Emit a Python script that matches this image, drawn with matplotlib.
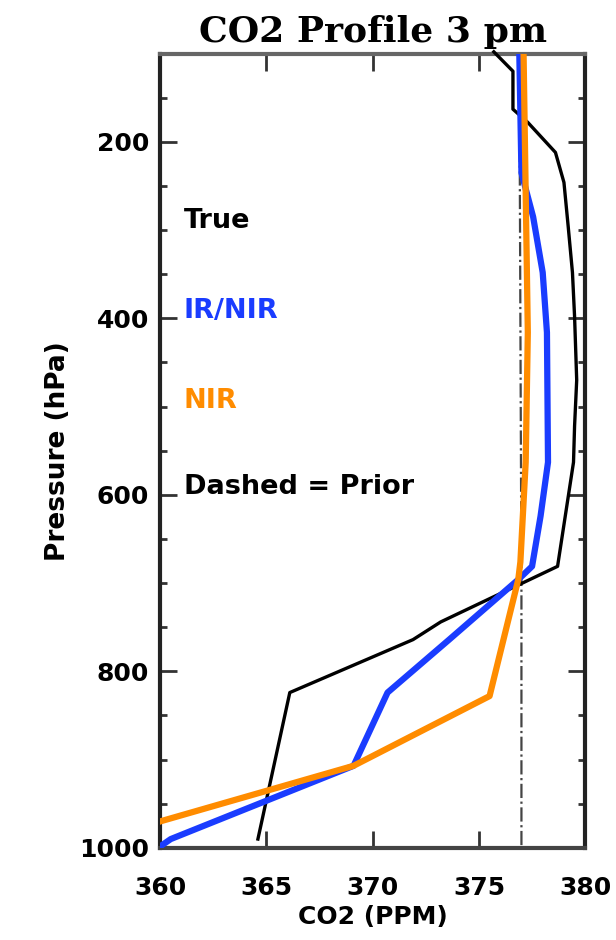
import numpy as np
import matplotlib
matplotlib.use("Agg")
import matplotlib.pyplot as plt
from matplotlib.ticker import MultipleLocator

# --- profiles (ppm vs hPa) ---
true_co2 = [375.7, 376.6, 376.6, 377.3, 378.6, 379.0, 379.2, 379.4, 379.5, 379.6, 379.5, 379.45, 378.7, 373.2, 371.9, 366.1, 364.6]
true_p = [98, 120, 163, 178, 212, 246, 296, 348, 398, 470, 522, 563, 681, 744, 764, 824, 990]

irnir_co2 = [376.9, 377.0, 377.55, 378.0, 378.2, 378.25, 377.9, 377.5, 376.85, 373.6, 370.7, 369.1, 360.5, 359.9]
irnir_p = [100, 235, 285, 348, 416, 563, 624, 681, 696, 764, 824, 907, 990, 1000]

nir_co2 = [377.1, 377.3, 377.2, 376.95, 376.85, 375.5, 369.1, 360.0, 359.5]
nir_p = [100, 416, 563, 676, 696, 828, 907, 970, 975]

prior_co2 = [376.9, 376.95, 377.0, 377.0]
prior_p = [100, 400, 700, 1000]

labels = ["True", "IR/NIR", "NIR", "Dashed = Prior"]
label_colors = ["black", "#1a3cff", "#ff8c00", "black"]
label_p = [290, 392, 494, 591]

fig = plt.figure(figsize=(6.16, 9.40), dpi=100)
ax = fig.add_axes([0.26, 0.098, 0.69, 0.845])

ax.plot(prior_co2, prior_p, color="#444444", lw=1.6, linestyle="-.")
ax.plot(true_co2, true_p, color="black", lw=2.4, clip_on=False, zorder=3)
ax.plot(irnir_co2, irnir_p, color="#1a3cff", lw=4.5, zorder=4)
ax.plot(nir_co2, nir_p, color="#ff8c00", lw=4.5, zorder=5)

for txt, c, p in zip(labels, label_colors, label_p):
    ax.text(361.1, p, txt, color=c, fontsize=19.5, fontweight="bold", va="center", ha="left")

ax.set_xlim(360, 380)
ax.set_ylim(1000, 100)
ax.set_xticks([360, 365, 370, 375, 380])
ax.set_yticks([200, 400, 600, 800, 1000])
ax.yaxis.set_minor_locator(MultipleLocator(50))
ax.tick_params(which="both", direction="in", top=True, right=True, width=2, color="#333333")
ax.tick_params(which="major", length=12, labelsize=18)
ax.tick_params(axis="x", which="major", pad=20)
ax.tick_params(axis="y", which="major", pad=8)
ax.tick_params(which="minor", length=5)
for lab in ax.get_xticklabels() + ax.get_yticklabels():
    lab.set_fontweight("bold")
for s in ax.spines.values():
    s.set_linewidth(3)
    s.set_color("#222222")
ax.spines["top"].set_color("#666666")
ax.spines["bottom"].set_color("#444444")

ax.set_xlabel("CO2 (PPM)", fontsize=18, fontweight="bold", labelpad=4)
ax.set_ylabel("Pressure (hPa)", fontsize=19, fontweight="bold", labelpad=6)
ax.set_title("CO2 Profile 3 pm", fontsize=26, fontweight="bold", family="DejaVu Serif", pad=8)

plt.savefig("out.png", dpi=100)
